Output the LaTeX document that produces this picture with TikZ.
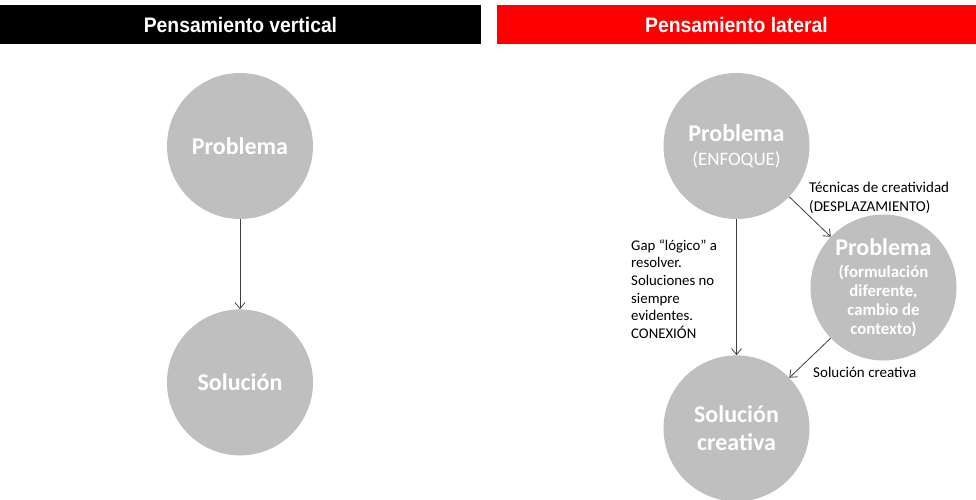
\documentclass[tikz,border=0pt]{standalone}
\usepackage{fontspec}
\setmainfont{Carlito}
\newfontfamily\titlefont[FakeStretch=0.92]{Liberation Sans}
\usetikzlibrary{arrows.meta,positioning}

\definecolor{bubblegray}{HTML}{BFBFBF}
\definecolor{arrowgray}{HTML}{404040}
\definecolor{lateralred}{HTML}{FF0000}

\begin{document}
\begin{tikzpicture}[
  x=1pt, y=1pt,
  bar/.style={minimum height=39pt, inner sep=0pt, text=white, font=\titlefont\bfseries\fontsize{21}{24}\selectfont},
  bubble/.style={circle, fill=bubblegray, minimum size=146pt, inner sep=0pt, align=center, text=white, font=\bfseries\fontsize{24}{28}\selectfont},
  note/.style={anchor=west, inner sep=0pt, align=left, font=\fontsize{14.8}{17.6}\selectfont},
  arr/.style={-{Straight Barb[length=6pt,width=10pt]}, draw=arrowgray, line width=0.8pt}
]
\useasboundingbox (0,0) rectangle (976,-499);

% Headers
\node[bar, fill=black, minimum width=481pt] (vhead) at (240.5,-24.5) {Pensamiento vertical};
\node[bar, fill=lateralred, minimum width=479pt] (lhead) at (736.5,-24.5) {Pensamiento lateral};

% Vertical thinking
\node[bubble] (vprob) at (240,-146) {Problema};
\node[bubble, below=90pt of vprob] (vsol) {Solución};
\draw[arr] (vprob) -- (vsol);

% Lateral thinking
\node[bubble] (lprob) at (736.5,-146) {Problema\\[-4pt]{\mdseries\fontsize{19}{19}\selectfont (ENFOQUE)}};
\node[bubble, font=\bfseries\fontsize{16.8}{19}\selectfont] (lshift) at (883.5,-287.5)
  {{\fontsize{24}{23}\selectfont Problema}\\[3pt](formulación\\diferente,\\cambio de\\contexto)};
\node[bubble, below=136pt of lprob] (lsol) {Solución\\creativa};

\draw[arr] (lprob) -- (lsol);
\draw[arr] (lprob) -- (lshift);
\draw[arr] (lshift) -- (lsol);

% Labels
\node[note] (gap) at (631,-289) {Gap “lógico” a\\resolver.\\Soluciones no\\siempre\\evidentes.\\CONEXIÓN};
\node[note, font=\fontsize{15}{19}\selectfont] (tech) at (809,-198) {Técnicas de creatividad\\(DESPLAZAMIENTO)};
\node[note, font=\fontsize{15}{19}\selectfont] (solcre) at (813,-372) {Solución creativa};

\end{tikzpicture}
\end{document}
